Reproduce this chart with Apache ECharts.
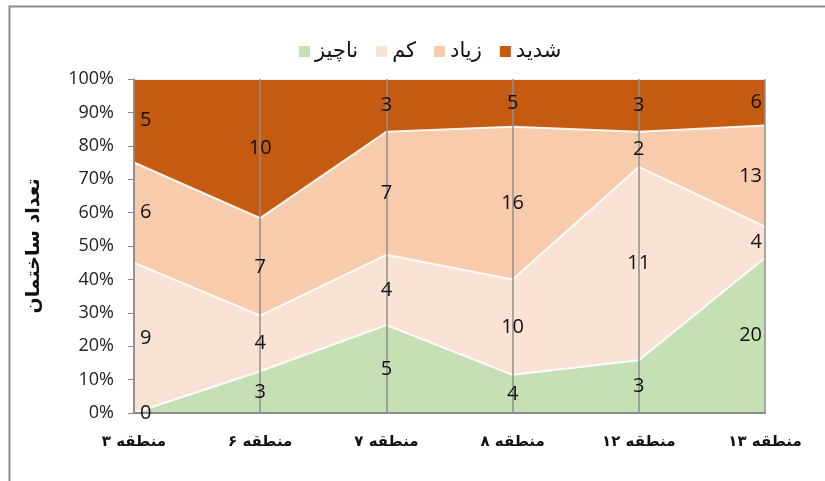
<!DOCTYPE html>
<html>
<head>
<meta charset="utf-8">
<script src="https://cdn.jsdelivr.net/npm/echarts@6/dist/echarts.min.js"></script>
<style>html,body{margin:0;padding:0;background:#fff}#c{width:825px;height:481px}</style>
</head>
<body>
<div id="c"></div>
<script>
const categories = ['منطقه ۳', 'منطقه ۶', 'منطقه ۷', 'منطقه ۸', 'منطقه ۱۲', 'منطقه ۱۳'];
const seriesNames = ['ناچیز', 'کم', 'زیاد', 'شدید'];
const naciz = [0, 3, 5, 4, 3, 20];
const kam = [9, 4, 4, 10, 11, 4];
const ziad = [6, 7, 7, 16, 2, 13];
const shadid = [5, 10, 3, 5, 3, 6];
const yTicks = [0, 10, 20, 30, 40, 50, 60, 70, 80, 90, 100];

const colors = ['#C5E0B4', '#FAE3D5', '#F7CBAC', '#C55A11'];
const raw = [naciz, kam, ziad, shadid];
const totals = categories.map((_, i) => raw.reduce((s, a) => s + a[i], 0));
const pct = raw.map(a => a.map((v, i) => v / totals[i] * 100));

const areaSeries = raw.map((a, k) => ({
  name: seriesNames[k],
  type: 'line',
  stack: 'total',
  data: pct[k],
  symbol: 'none',
  color: colors[k],
  lineStyle: { color: 'rgba(255,255,255,0.9)', width: 2 },
  areaStyle: { color: colors[k], opacity: 1 },
  z: 2
}));

const labelData = [];
raw.forEach((a, k) => {
  a.forEach((v, i) => {
    let base = 0;
    for (let j = 0; j < k; j++) base += pct[j][i];
    const mid = base + pct[k][i] / 2;
    let align = 'center', offset = [0, 0];
    if (i === 0) { align = 'left'; offset = [6, 0]; }
    if (i === categories.length - 1) { align = 'right'; offset = [-3, 0]; }
    labelData.push({ value: [i, mid, v], label: { align: align, offset: offset } });
  });
});

const chart = echarts.init(document.getElementById('c'));
chart.setOption({
  animation: false,
  backgroundColor: '#fff',
  graphic: [{
    type: 'rect', left: 7, top: 4, z: -1,
    shape: { width: 830, height: 490 },
    style: { fill: 'none', stroke: '#8c8c8c', lineWidth: 2 }
  }],
  legend: {
    data: seriesNames,
    top: 36,
    left: 294,
    itemWidth: 11,
    itemHeight: 11,
    itemGap: 18,
    icon: 'rect',
    textStyle: { fontFamily: 'DejaVu Sans', fontSize: 21, color: '#111' }
  },
  grid: { left: 134, right: 60, top: 79, bottom: 68 },
  xAxis: {
    type: 'category',
    data: categories,
    boundaryGap: false,
    z: 5,
    axisLine: { lineStyle: { color: '#8a8a8a', width: 2 } },
    axisTick: { show: false },
    splitLine: { show: true, lineStyle: { color: '#8f8f8f', width: 1.5 } },
    axisLabel: { margin: 22, fontFamily: 'DejaVu Sans', fontWeight: 'bold', fontSize: 15, color: '#111' }
  },
  yAxis: {
    type: 'value',
    min: yTicks[0],
    max: yTicks[yTicks.length - 1],
    interval: 10,
    z: 5,
    name: 'تعداد ساختمان',
    nameLocation: 'middle',
    nameGap: 90,
    nameRotate: 90,
    nameTextStyle: { fontFamily: 'DejaVu Sans', fontWeight: 'bold', fontSize: 19, color: '#111' },
    axisLine: { show: true, lineStyle: { color: '#8a8a8a', width: 1.5 } },
    axisTick: { show: true, length: 6, lineStyle: { color: '#8a8a8a' } },
    splitLine: { show: false },
    axisLabel: { margin: 20, formatter: v => v + '%', fontFamily: 'Open Sans', fontSize: 18, color: '#222' }
  },
  series: areaSeries.concat([{
    type: 'scatter',
    data: labelData,
    symbolSize: 0,
    silent: true,
    z: 10,
    itemStyle: { opacity: 1 },
    label: {
      show: true,
      position: 'inside',
      formatter: p => String(p.value[2]),
      fontFamily: 'Open Sans',
      fontSize: 20,
      color: '#111',
      opacity: 1
    }
  }])
});
</script>
</body>
</html>
